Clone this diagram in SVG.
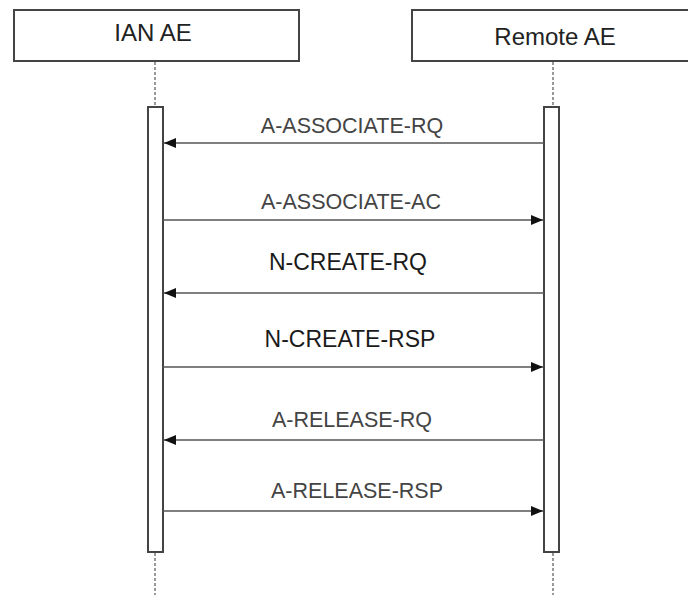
<svg xmlns="http://www.w3.org/2000/svg" width="688" height="595" viewBox="0 0 688 595">
<defs>
<style>
.box{fill:#fff;stroke:#444;stroke-width:2}
.act{fill:#fff;stroke:#444;stroke-width:2}
.life{stroke:#999;stroke-width:2;stroke-dasharray:3 2;fill:none}
.msg{stroke:#555;stroke-width:1.5;fill:none;marker-end:url(#ah)}
.head{font-family:"Liberation Sans",Arial,sans-serif;font-size:24px;fill:#222;text-anchor:middle}
.lbl{font-family:"Liberation Sans",Arial,sans-serif;font-size:21.5px;fill:#444;text-anchor:middle}
.lbl2{font-family:"Liberation Sans",Arial,sans-serif;font-size:23px;fill:#1a1a1a;text-anchor:middle}
</style>
<marker id="ah" viewBox="0 0 12 10" refX="12" refY="5" markerWidth="12" markerHeight="10" markerUnits="userSpaceOnUse" orient="auto">
<path d="M0,0 L12,5 L0,10 Z" fill="#111"/>
</marker>
</defs>
<rect width="688" height="595" fill="#fff"/>
<g id="ian-ae">
<rect class="box" x="14" y="10" width="285" height="51"/>
<text class="head" x="153" y="41">IAN AE</text>
<line class="life" x1="155" y1="62" x2="155" y2="107"/>
<line class="life" x1="155" y1="553" x2="155" y2="595"/>
<rect class="act" x="148" y="107" width="15" height="445"/>
</g>
<g id="remote-ae">
<rect class="box" x="412" y="10" width="290" height="51"/>
<text class="head" x="555" y="45">Remote AE</text>
<line class="life" x1="553" y1="62" x2="553" y2="107"/>
<line class="life" x1="553" y1="553" x2="553" y2="595"/>
<rect class="act" x="544" y="107" width="15" height="445"/>
</g>
<g id="connectors">
<line class="msg" x1="544" y1="143" x2="164" y2="143"/>
<text class="lbl" x="352" y="133">A-ASSOCIATE-RQ</text>
<line class="msg" x1="163" y1="220" x2="543" y2="220"/>
<text class="lbl" x="351" y="209">A-ASSOCIATE-AC</text>
<line class="msg" x1="544" y1="293" x2="164" y2="293"/>
<text class="lbl2" x="348" y="270">N-CREATE-RQ</text>
<line class="msg" x1="163" y1="367" x2="543" y2="367"/>
<text class="lbl2" x="350" y="347">N-CREATE-RSP</text>
<line class="msg" x1="544" y1="440" x2="164" y2="440"/>
<text class="lbl" x="352" y="427">A-RELEASE-RQ</text>
<line class="msg" x1="163" y1="511" x2="543" y2="511"/>
<text class="lbl" x="357" y="498">A-RELEASE-RSP</text>
</g>
</svg>
